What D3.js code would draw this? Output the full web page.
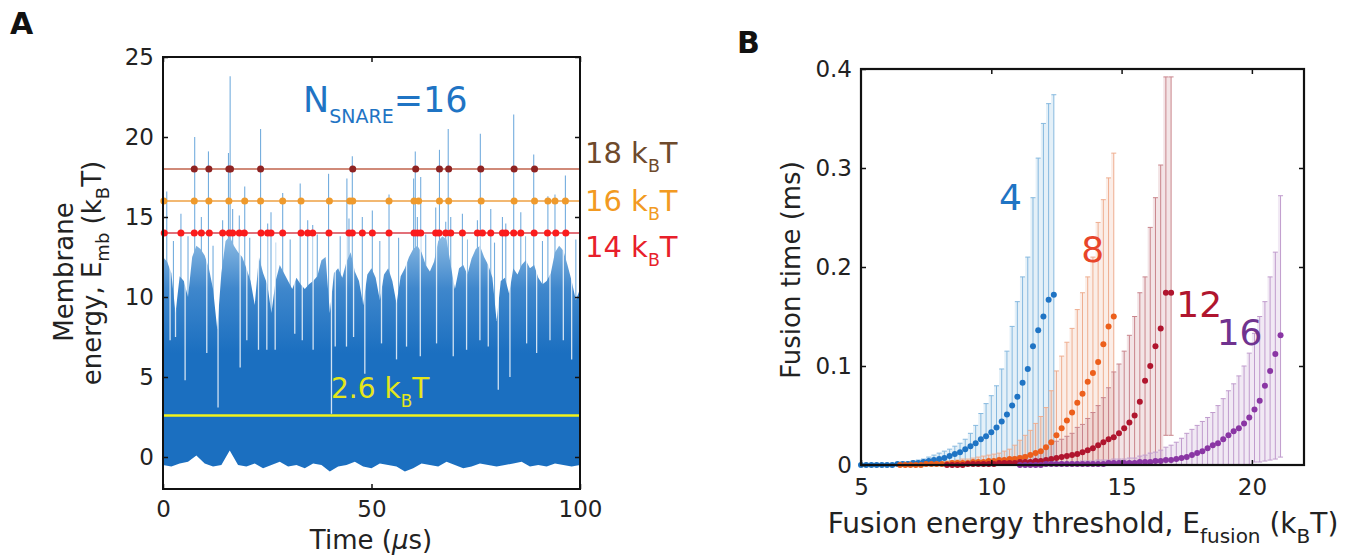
<!DOCTYPE html>
<html>
<head>
<meta charset="utf-8">
<script src="https://cdn.jsdelivr.net/npm/d3@7"></script>
<style>
  body { margin: 0; background: #fff; }
  svg text { font-family: "DejaVu Sans", "Open Sans", sans-serif; }
</style>
</head>
<body>
<svg id="fig" width="1366" height="555"></svg>
<script>
// ---------- panel A data (membrane energy trace) ----------
// upper edge of the dense trace, one value per microsecond (0..100)
var bandTop = [12.5,12.2,11.5,9.0,11.3,11.0,10.0,12.5,13.2,13.0,12.6,11.8,10.5,8.0,11.5,13.5,13.8,13.2,12.8,12.5,
  11.8,11.0,9.5,12.5,11.5,10.8,9.0,11.0,12.0,11.5,11.0,10.5,11.2,10.8,10.5,10.8,11.0,11.3,12.3,12.5,
  9.0,11.5,11.8,11.2,12.2,12.8,11.6,11.0,9.5,11.4,11.8,11.2,9.8,11.4,11.8,11.0,9.6,11.3,11.8,12.5,
  13.0,13.2,12.8,12.0,11.6,12.2,13.5,13.8,13.6,12.0,10.5,11.8,12.0,11.4,12.4,13.0,13.2,12.5,12.0,11.2,
  8.5,11.0,11.2,10.2,11.8,11.4,12.0,12.3,11.8,12.0,11.2,10.8,11.0,11.5,12.8,13.2,12.9,12.0,11.0,9.8,10.5];
// lower edge of the trace, one value per 2 microseconds
var bandBottom = [-0.5,-0.6,-0.4,-0.3,0.1,-0.4,-0.6,-0.5,0.4,-0.5,-0.6,-0.4,-0.7,-0.5,-0.3,-0.6,-0.5,-0.7,-0.4,-0.5,
  -0.9,-0.6,-0.5,-0.3,-0.6,-0.7,-0.4,-0.5,-0.6,-0.9,-0.7,-0.4,-0.5,-0.6,-0.3,-0.5,-0.7,-0.6,-0.4,-0.5,
  -0.6,-0.5,-0.4,-0.3,-0.6,-0.5,-0.6,-0.4,-0.5,-0.6,-0.5];
// thin peaks above the dense band [time, peak]
var spikes = [[0.9,16.6],[7.6,20.0],[10.9,19.1],[15.7,19.0],[16.1,23.8],[23.4,20.5],[32.9,17.1],[39.7,17.7],
  [44.1,17.4],[45.4,18.8],[60.1,17.4],[60.5,19.1],[61.8,17.5],[66.3,19.2],[68.4,20.5],[76.1,20.2],[84.1,21.4],
  [88.9,18.9],[96.5,17.6],[19.6,16.9],[28.7,16.5],[54.2,16.4],[92.3,16.3],[94.0,16.4],
  [4.3,15.2],[9.2,15.0],[14.3,14.8],[16.7,15.5],[18.3,15.1],[25.1,14.6],[25.9,15.3],[34.7,14.8],[35.9,14.5],
  [44.6,14.9],[47.8,15.0],[50.2,15.4],[61.0,15.0],[65.4,15.6],[67.8,14.7],[69.0,15.0],[71.8,15.2],[75.4,14.8],
  [78.6,15.5],[81.4,15.0],[82.2,14.6],[85.8,15.3],
  [2.5,13.5],[6.0,13.8],[12.0,13.2],[20.8,13.7],[27.0,13.4],[30.5,13.6],[37.0,13.9],[42.5,13.8],[52.0,13.5],
  [56.5,13.7],[63.0,13.9],[73.0,13.6],[79.5,13.4],[87.0,13.8],[91.0,13.5],[99.0,13.6]];
// white dips inside the band [time, lowest value]
var dips = [[1.7,7.3],[3.0,7.5],[5.3,4.8],[10.5,6.5],[13.2,3.1],[18.5,5.6],[20.1,7.3],[22.9,6.7],[24.9,6.7],
  [26.9,6.7],[31.6,7.7],[33.4,7.3],[36.0,6.7],[40.4,2.7],[41.3,6.9],[44.0,6.9],[45.7,7.5],[48.4,5.2],[52.4,7.1],
  [56.0,6.1],[58.4,6.9],[61.7,6.3],[65.6,7.1],[69.6,6.3],[72.8,6.7],[76.0,7.3],[78.0,6.9],[80.4,4.2],[83.2,5.0],
  [87.2,7.1],[89.6,6.5],[92.8,7.3],[96.0,7.3],[98.0,6.1]];

// threshold crossings (times, us)
var cross18 = [7.5,11.0,15.8,16.2,23.4,45.5,60.6,66.3,68.5,76.2,84.2,89.1];
var cross16 = [0.2,7.5,11.0,15.8,19.6,23.4,28.7,33.1,39.9,44.8,45.5,54.2,60.2,61.3,66.3,68.5,76.3,84.2,89.1,92.3,94.0,96.5];
var cross14 = [0.3,4.3,7.5,9.2,11.1,14.3,15.9,16.7,18.3,19.5,23.5,25.1,25.9,28.7,33.1,34.7,35.9,39.8,44.6,45.4,
  47.8,50.2,54.2,60.2,61.0,61.8,65.4,66.2,67.8,69.0,71.8,75.4,76.6,78.6,81.4,82.2,84.1,85.8,89.0,92.2,94.2,96.6];
var meanEnergy = 2.6;

// ---------- panel B data (fusion time vs threshold, thresholds every 0.2 kBT) ----------
var blueStart = 5.0;
var blueMean = [0,0,0,0,0,0,0,0.001,0.001,0.001,0.002,0.002,0.003,0.004,0.005,0.006,0.007,0.009,0.011,0.013,
  0.016,0.019,0.022,0.026,0.029,0.033,0.038,0.044,0.051,0.06,0.069,0.083,0.097,0.12,0.136,0.15,0.167,0.172];
var blueHi = [0.001,0.001,0.001,0.001,0.001,0.001,0.001,0.002,0.003,0.003,0.004,0.005,0.006,0.008,0.01,0.012,0.014,
  0.016,0.019,0.022,0.026,0.032,0.04,0.052,0.062,0.07,0.08,0.097,0.115,0.14,0.165,0.19,0.21,0.27,0.31,0.345,0.365,0.374];

var orangeStart = 6.5;
var orangeMean = [0,0,0,0,0,0.001,0.001,0.001,0.001,0.001,0.002,0.002,0.002,0.002,0.003,0.003,0.003,0.004,0.004,
  0.005,0.005,0.006,0.006,0.007,0.008,0.010,0.012,0.014,0.018,0.023,0.03,0.037,0.045,0.053,0.063,0.072,0.084,
  0.093,0.104,0.122,0.14,0.15];
var orangeHi = [0.001,0.001,0.001,0.001,0.001,0.002,0.002,0.003,0.003,0.004,0.004,0.005,0.006,0.006,0.007,0.008,
  0.009,0.01,0.011,0.012,0.014,0.016,0.02,0.025,0.03,0.035,0.042,0.049,0.058,0.075,0.095,0.11,0.124,0.138,0.157,
  0.174,0.19,0.21,0.245,0.268,0.29,0.315];

var redStart = 8.3;
var redMean = [0,0,0,0,0.001,0.001,0.001,0.001,0.001,0.001,0.002,0.002,0.002,0.002,0.003,0.003,0.003,0.004,0.004,
  0.005,0.006,0.007,0.008,0.009,0.01,0.011,0.013,0.015,0.017,0.02,0.023,0.026,0.028,0.032,0.037,0.043,0.05,
  0.064,0.085,0.1,0.12,0.138,0.174,0.174];
var redHi = [0.001,0.001,0.001,0.002,0.002,0.002,0.003,0.003,0.004,0.004,0.005,0.006,0.007,0.008,0.009,0.01,0.011,
  0.012,0.015,0.018,0.021,0.024,0.026,0.029,0.032,0.038,0.041,0.047,0.053,0.06,0.068,0.078,0.094,0.102,0.115,
  0.131,0.15,0.174,0.19,0.24,0.27,0.303,0.392,0.392];
var redLow = [[16.7,0.03],[16.9,0.03]];

var purpleStart = 11.1;
var purpleMean = [0,0,0,0,0,0.001,0.001,0.001,0.001,0.001,0.001,0.001,0.001,0.001,0.001,0.001,0.001,0.002,0.002,
  0.002,0.002,0.002,0.002,0.003,0.003,0.003,0.004,0.004,0.005,0.005,0.006,0.007,0.008,0.01,0.012,0.014,0.017,
  0.02,0.022,0.026,0.03,0.034,0.037,0.042,0.048,0.056,0.065,0.08,0.095,0.112,0.131];
var purpleHi = [0.001,0.001,0.001,0.001,0.002,0.002,0.002,0.002,0.003,0.003,0.003,0.003,0.004,0.004,0.004,0.005,
  0.005,0.005,0.006,0.006,0.006,0.007,0.007,0.009,0.01,0.012,0.013,0.015,0.018,0.02,0.023,0.027,0.032,0.036,
  0.04,0.044,0.048,0.053,0.06,0.067,0.075,0.082,0.09,0.1,0.113,0.133,0.15,0.165,0.19,0.215,0.272];
var purpleLow = [[20.1,0.003],[20.3,0.003],[20.5,0.004],[20.7,0.005],[20.9,0.006],[21.1,0.008]];

var svg = d3.select("#fig");
var defs = svg.append("defs");

// ================= panel A =================
var xA = d3.scaleLinear().domain([0, 100]).range([163, 580]);
var yA = d3.scaleLinear().domain([-2, 25]).range([489, 57]);

var gA = svg.append("g");

// the top of the band is a mix of thin lines, so it reads lighter
var grad = defs.append("linearGradient").attr("id", "bandFade")
    .attr("gradientUnits", "userSpaceOnUse")
    .attr("x1", 0).attr("x2", 0).attr("y1", yA(13.8)).attr("y2", yA(6.5));
grad.append("stop").attr("offset", "0%").attr("stop-color", "#8dbbe3");
grad.append("stop").attr("offset", "45%").attr("stop-color", "#3f87cc");
grad.append("stop").attr("offset", "100%").attr("stop-color", "#1b6fc0");

// spikes under the band
gA.selectAll(".spike").data(spikes).enter().append("line")
    .attr("x1", function(d) { return xA(d[0]); })
    .attr("x2", function(d) { return xA(d[0]); })
    .attr("y1", yA(9))
    .attr("y2", function(d) { return yA(d[1]); })
    .style("stroke", "#5c9fd8")
    .style("stroke-opacity", 0.85)
    .style("stroke-width", 1.1);

// dense part of the trace
var topArea = d3.area()
    .x(function(d, i) { return xA(i); })
    .y0(yA(1))
    .y1(function(d) { return yA(d); });
gA.append("path").datum(bandTop).attr("d", topArea).style("fill", "url(#bandFade)");

var bottomArea = d3.area()
    .x(function(d, i) { return xA(i * 2); })
    .y0(function(d) { return yA(d); })
    .y1(yA(1.5));
gA.append("path").datum(bandBottom).attr("d", bottomArea).style("fill", "#1b6fc0");

// white dips through the band
gA.selectAll(".dip").data(dips).enter().append("line")
    .attr("x1", function(d) { return xA(d[0]); })
    .attr("x2", function(d) { return xA(d[0]); })
    .attr("y1", yA(13.9))
    .attr("y2", function(d) { return yA(d[1]); })
    .style("stroke", "#ffffff")
    .style("stroke-opacity", 0.8)
    .style("stroke-width", 1.3);

// mean energy line
gA.append("line")
    .attr("x1", xA(0)).attr("x2", xA(100))
    .attr("y1", yA(meanEnergy)).attr("y2", yA(meanEnergy))
    .style("stroke", "#f2f21a").style("stroke-width", 2.5);

// thresholds with crossing markers
var thresholds = [
  {v: 18, times: cross18, line: "#c0634c", dot: "#8e2323"},
  {v: 16, times: cross16, line: "#eea043", dot: "#ef9a2c"},
  {v: 14, times: cross14, line: "#d9404c", dot: "#fb1c1c"}
];
thresholds.forEach(function(th) {
  gA.append("line")
      .attr("x1", xA(0)).attr("x2", xA(100))
      .attr("y1", yA(th.v)).attr("y2", yA(th.v))
      .style("stroke", th.line).style("stroke-width", 1.6);
  gA.selectAll(null).data(th.times).enter().append("circle")
      .attr("cx", function(d) { return xA(d); })
      .attr("cy", yA(th.v))
      .attr("r", 3.5)
      .style("fill", th.dot);
});

// axes (MATLAB style, ticks inside)
gA.append("g")
    .attr("transform", "translate(" + xA(0) + ",0)")
    .call(d3.axisLeft(yA).tickValues([0, 5, 10, 15, 20, 25]).tickSizeInner(-5).tickSizeOuter(0).tickPadding(9))
    .call(function(g) { g.select(".domain").remove(); });
gA.append("g")
    .attr("transform", "translate(0," + yA(-2) + ")")
    .call(d3.axisBottom(xA).tickValues([0, 50, 100]).tickSizeInner(-5).tickSizeOuter(0).tickPadding(12))
    .call(function(g) { g.select(".domain").remove(); });
gA.append("g")
    .attr("transform", "translate(" + xA(100) + ",0)")
    .call(d3.axisRight(yA).tickValues([0, 5, 10, 15, 20, 25]).tickSizeInner(-5).tickSizeOuter(0).tickFormat(""))
    .call(function(g) { g.select(".domain").remove(); });
gA.append("g")
    .attr("transform", "translate(0," + yA(25) + ")")
    .call(d3.axisTop(xA).tickValues([0, 50, 100]).tickSizeInner(-5).tickSizeOuter(0).tickFormat(""))
    .call(function(g) { g.select(".domain").remove(); });
gA.append("rect")
    .attr("x", xA(0)).attr("y", yA(25))
    .attr("width", xA(100) - xA(0)).attr("height", yA(-2) - yA(25))
    .style("fill", "none").style("stroke", "#111").style("stroke-width", 2);

// ================= panel B =================
var xB = d3.scaleLinear().domain([5, 22]).range([861, 1304]);
var yB = d3.scaleLinear().domain([0, 0.4]).range([465, 69]);
var gB = svg.append("g");

var series = [
  {start: blueStart, mean: blueMean, hi: blueHi, low: [], color: "#1f74c4", bar: "#86b9df"},
  {start: orangeStart, mean: orangeMean, hi: orangeHi, low: [], color: "#ec5f1c", bar: "#efae90"},
  {start: redStart, mean: redMean, hi: redHi, low: redLow, color: "#b0152e", bar: "#c9858c"},
  {start: purpleStart, mean: purpleMean, hi: purpleHi, low: purpleLow, color: "#8a36a4", bar: "#c09ccd"}
];

series.forEach(function(s) {
  var pts = s.mean.map(function(m, i) {
    var e = Math.round((s.start + i * 0.2) * 10) / 10;
    var lo = 0;
    s.low.forEach(function(l) { if (Math.abs(l[0] - e) < 0.01) lo = l[1]; });
    return {e: e, m: m, hi: s.hi[i], lo: lo};
  });
  // faint fill between the dense bars
  gB.append("path").datum(pts)
      .attr("d", d3.area().curve(d3.curveStep)
        .x(function(d) { return xB(d.e); })
        .y0(function(d) { return yB(d.lo); })
        .y1(function(d) { return yB(d.hi); }))
      .style("fill", s.bar).style("fill-opacity", 0.22);
  var bars = gB.append("g").style("stroke", s.bar).style("stroke-width", 1);
  bars.selectAll(null).data(pts).enter().append("line")
      .attr("x1", function(d) { return xB(d.e); })
      .attr("x2", function(d) { return xB(d.e); })
      .attr("y1", function(d) { return yB(d.lo); })
      .attr("y2", function(d) { return yB(d.hi); });
  bars.selectAll(null).data(pts).enter().append("line")
      .attr("x1", function(d) { return xB(d.e) - 2.5; })
      .attr("x2", function(d) { return xB(d.e) + 2.5; })
      .attr("y1", function(d) { return yB(d.hi); })
      .attr("y2", function(d) { return yB(d.hi); });
  bars.selectAll(null).data(pts.filter(function(d) { return d.lo > 0; })).enter().append("line")
      .attr("x1", function(d) { return xB(d.e) - 2.5; })
      .attr("x2", function(d) { return xB(d.e) + 2.5; })
      .attr("y1", function(d) { return yB(d.lo); })
      .attr("y2", function(d) { return yB(d.lo); });
  s.pts = pts;
});
series.forEach(function(s) {
  gB.selectAll(null).data(s.pts).enter().append("circle")
      .attr("cx", function(d) { return xB(d.e); })
      .attr("cy", function(d) { return yB(d.m); })
      .attr("r", 3)
      .style("fill", s.color);
});

gB.append("g")
    .attr("transform", "translate(" + xB(5) + ",0)")
    .call(d3.axisLeft(yB).tickValues([0, 0.1, 0.2, 0.3, 0.4]).tickFormat(function(d) { return d === 0 ? "0" : d3.format(".1f")(d); })
      .tickSizeInner(-5).tickSizeOuter(0).tickPadding(9))
    .call(function(g) { g.select(".domain").remove(); });
gB.append("g")
    .attr("transform", "translate(0," + yB(0) + ")")
    .call(d3.axisBottom(xB).tickValues([5, 10, 15, 20]).tickSizeInner(-5).tickSizeOuter(0).tickPadding(14))
    .call(function(g) { g.select(".domain").remove(); });
gB.append("g")
    .attr("transform", "translate(" + xB(22) + ",0)")
    .call(d3.axisRight(yB).tickValues([0.1, 0.2, 0.3]).tickSizeInner(-5).tickSizeOuter(0).tickFormat(""))
    .call(function(g) { g.select(".domain").remove(); });
gB.append("g")
    .attr("transform", "translate(0," + yB(0.4) + ")")
    .call(d3.axisTop(xB).tickValues([10, 15, 20]).tickSizeInner(-5).tickSizeOuter(0).tickFormat(""))
    .call(function(g) { g.select(".domain").remove(); });
gB.append("rect")
    .attr("x", xB(5)).attr("y", yB(0.4))
    .attr("width", xB(22) - xB(5)).attr("height", yB(0) - yB(0.4))
    .style("fill", "none").style("stroke", "#111").style("stroke-width", 2.2);

// tick styling
svg.selectAll(".tick text").style("font-size", "23px").style("fill", "#222");
svg.selectAll(".tick line").style("stroke", "#111").style("stroke-width", 1.5);

// ================= texts =================
svg.append("text").attr("x", 10).attr("y", 34).text("A")
    .style("font-size", "30px").style("font-weight", "bold").style("fill", "#111");
svg.append("text").attr("x", 737).attr("y", 53).text("B")
    .style("font-size", "30px").style("font-weight", "bold").style("fill", "#111");

// N_SNARE label
var ns = svg.append("text").attr("x", 303).attr("y", 112).style("fill", "#1f74c4").style("font-size", "35px");
ns.append("tspan").text("N");
ns.append("tspan").attr("dy", 11).style("font-size", "19px").text("SNARE");
ns.append("tspan").attr("dy", -11).text("=16");

// threshold labels
function kbt(x, y, num, color, size) {
  var t = svg.append("text").attr("x", x).attr("y", y).style("fill", color).style("font-size", size + "px");
  t.append("tspan").text(num + " k");
  t.append("tspan").attr("dy", size * 0.32).style("font-size", (size * 0.6) + "px").text("B");
  t.append("tspan").attr("dy", -size * 0.32).text("T");
  return t;
}
kbt(585, 163, "18", "#6e4a2c", 29);
kbt(585, 211, "16", "#f29a22", 29);
kbt(585, 257, "14", "#e81f2b", 29);
kbt(331, 398, "2.6", "#e6e61a", 28);

// axis titles panel A
svg.append("text").attr("transform", "translate(73,272) rotate(-90)")
    .attr("text-anchor", "middle").style("font-size", "26px").style("fill", "#222").text("Membrane");
var ya2 = svg.append("text").attr("transform", "translate(101,273) rotate(-90)")
    .attr("text-anchor", "middle").style("font-size", "26px").style("fill", "#222");
ya2.append("tspan").text("energy, E");
ya2.append("tspan").attr("dy", 8).style("font-size", "18px").text("mb");
ya2.append("tspan").attr("dy", -8).text(" (k");
ya2.append("tspan").attr("dy", 8).style("font-size", "18px").text("B");
ya2.append("tspan").attr("dy", -8).text("T)");

var xa = svg.append("text").attr("x", 371).attr("y", 549).attr("text-anchor", "middle")
    .style("font-size", "26px").style("fill", "#222");
xa.append("tspan").text("Time (");
xa.append("tspan").style("font-style", "italic").text("\u03bc");
xa.append("tspan").text("s)");

// axis titles panel B
svg.append("text").attr("transform", "translate(800,270) rotate(-90)")
    .attr("text-anchor", "middle").style("font-size", "26px").style("fill", "#222").text("Fusion time (ms)");
var xb = svg.append("text").attr("x", 1083).attr("y", 533).attr("text-anchor", "middle")
    .style("font-size", "28px").style("fill", "#222");
xb.append("tspan").text("Fusion energy threshold, E");
xb.append("tspan").attr("dy", 10).style("font-size", "20px").text("fusion");
xb.append("tspan").attr("dy", -10).text(" (k");
xb.append("tspan").attr("dy", 10).style("font-size", "20px").text("B");
xb.append("tspan").attr("dy", -10).text("T)");

// series labels
var seriesLabels = [
  {t: "4", e: 10.3, v: 0.258, c: "#1f74c4"},
  {t: "8", e: 13.45, v: 0.205, c: "#e8452a"},
  {t: "12", e: 17.1, v: 0.15, c: "#b0152e"},
  {t: "16", e: 18.65, v: 0.121, c: "#70338f"}
];
svg.selectAll(null).data(seriesLabels).enter().append("text")
    .attr("x", function(d) { return xB(d.e); })
    .attr("y", function(d) { return yB(d.v); })
    .style("font-size", "36px")
    .style("fill", function(d) { return d.c; })
    .text(function(d) { return d.t; });
</script>
</body>
</html>
